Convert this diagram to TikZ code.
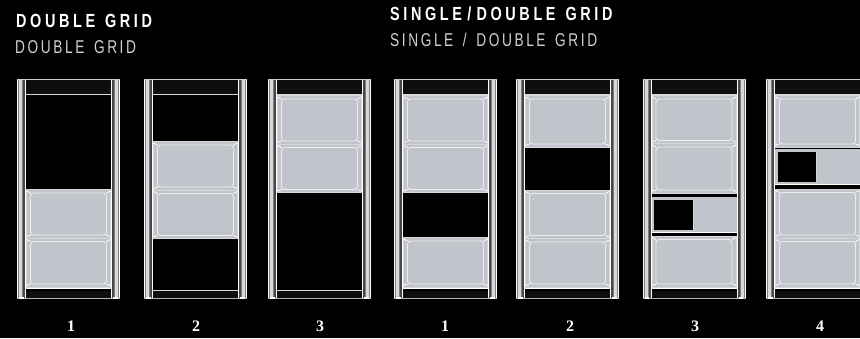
\documentclass[tikz,border=0pt]{standalone}
\usepackage{fontspec}
\setmainfont{Liberation Sans}
\newfontfamily\numfont{Liberation Serif}
\newfontfamily\headfont[FakeStretch=0.76,LetterSpace=19,WordSpace=1.3]{Liberation Sans Bold}
\newfontfamily\subfont[FakeStretch=0.74,LetterSpace=14,WordSpace=1.5]{Liberation Sans}
\usetikzlibrary{calc}
\definecolor{panelGrey}{RGB}{194,196,203}
\definecolor{panelEdge}{RGB}{214,215,219}
\definecolor{barDark}{RGB}{14,14,14}
\definecolor{railMid}{RGB}{125,125,125}
\tikzset{
  headtext/.style={anchor=base west,text=white,inner sep=0pt,font=\headfont\fontsize{19}{19}\selectfont},
  subtext/.style={anchor=base west,text=white!82!black,inner sep=0pt,font=\subfont\fontsize{18.5}{19}\selectfont},
  numtext/.style={text=white,inner sep=0pt,font=\numfont\bfseries\fontsize{16}{16}\selectfont},
  panelline/.style={draw=white!72!panelGrey,line width=0.9pt,rounded corners=3pt},
}
% one frame: rails, top band, bottom band
\newcommand{\GridFrame}[1]{%
\begin{scope}[shift={(#1,0)}]
  \fill[barDark] (9,79.5) rectangle (94,94);
  \fill[barDark] (9,291) rectangle (94,298);
  \draw[white!80!black,line width=0.9pt] (0,79.5) -- (103,79.5);
  \draw[white!85!black,line width=0.8pt] (9,94) -- (94,94);
  \draw[white!70!black,line width=0.8pt] (0,298) -- (103,298);
  \foreach \railx/\lightx/\darkx in {0/2/6,94/4/1}{
    \fill[railMid] (\railx,79.5) rectangle (\railx+9,298);
    \fill[white!85!black] (\railx+\lightx,79.5) rectangle (\railx+\lightx+3,298);
    \fill[black!72] (\railx+\darkx,79.5) rectangle (\railx+\darkx+2,298);
    \draw[white,line width=0.7pt] (\railx+0.4,79.5) -- (\railx+0.4,298);
    \draw[white,line width=0.7pt] (\railx+8.6,79.5) -- (\railx+8.6,298);
    \fill[white] (\railx+2,296.8) rectangle (\railx+6.5,299);
  }
\end{scope}}
% one full cell between two heights
\newcommand{\GridCell}[3]{%
\begin{scope}[shift={(#1,0)}]
  \fill[panelGrey] (9.4,#2) rectangle (93.6,#3);
  \draw[panelEdge,line width=0.4pt] (9.4,#2) rectangle (93.6,#3);
  \draw[panelline] (13.5,#2+3.5) rectangle (89.5,#3-3);
  \foreach \cornx/\tickx in {9.4/13.5,93.6/89.5}{
    \draw[white,line width=0.8pt] (\cornx,#2+1.5) -- (\tickx,#2+3.5);
    \draw[white,line width=0.8pt] (\cornx,#3-1.5) -- (\tickx,#3-3);
  }
\end{scope}}
% half black, half grey row
\newcommand{\GridSplit}[3]{%
\begin{scope}[shift={(#1,0)}]
  \fill[panelGrey] (9,#2) rectangle (94,#3);
  \draw[white,line width=1.2pt] (9,#3) -- (94,#3);
  \fill[black] (11.5,#2+3) rectangle (50,#3-3);
  \draw[panelEdge,line width=0.6pt] (50.5,#2+3) -- (50.5,#3-3);
\end{scope}}
\begin{document}
\begin{tikzpicture}[x=1pt,y=-1pt]
\useasboundingbox (0,0) rectangle (860,338);
\clip (0,0) rectangle (860,338);
\fill[black] (0,0) rectangle (860,338);

\node[headtext] (doubleHead) at (16,27) {DOUBLE GRID};
\node[subtext] (doubleSub) at (15,53) {DOUBLE GRID};
\node[headtext] (singleHead) at (390,20) {SINGLE\;/\;DOUBLE GRID};
\node[subtext] (singleSub) at (390,46) {SINGLE / DOUBLE GRID};

\foreach \framex in {17,144,268,394,516,642.5,766}{\GridFrame{\framex}}

% double grid
\GridCell{17}{189.5}{238}
\GridCell{17}{238}{287}
\GridCell{144}{141.5}{190}
\GridCell{144}{190}{238.5}
\GridCell{268}{95.5}{144}
\GridCell{268}{144}{192.5}
\draw[white!85!black,line width=0.8pt] (277,290.5) -- (362,290.5);
\draw[white!85!black,line width=0.8pt] (153,290.5) -- (238,290.5);
\foreach \framex in {17,394,516,642.5,766}{
  \draw[white,line width=1pt] (\framex+9,288.7) -- (\framex+94,288.7);
}

% single / double grid
\GridCell{394}{95.5}{144}
\GridCell{394}{144}{192.5}
\GridCell{394}{237.5}{287}
\GridCell{516}{95.5}{147}
\GridCell{516}{190}{238.5}
\GridCell{516}{238.5}{287}
\GridCell{642.5}{95.5}{143.5}
\GridCell{642.5}{143.5}{193}
\GridSplit{642.5}{197}{232.5}
\GridCell{642.5}{236}{287}
\GridCell{766}{95.5}{147}
\GridSplit{766}{149}{184.5}
\GridCell{766}{189}{238}
\GridCell{766}{238}{287}

\foreach \numx/\numlabel/\numname in {71/1/a,196/2/b,320/3/c,445/1/d,570/2/e,695/3/f,820/4/g}{
  \node[numtext] (num\numname) at (\numx,326) {\numlabel};
}
\end{tikzpicture}
\end{document}
